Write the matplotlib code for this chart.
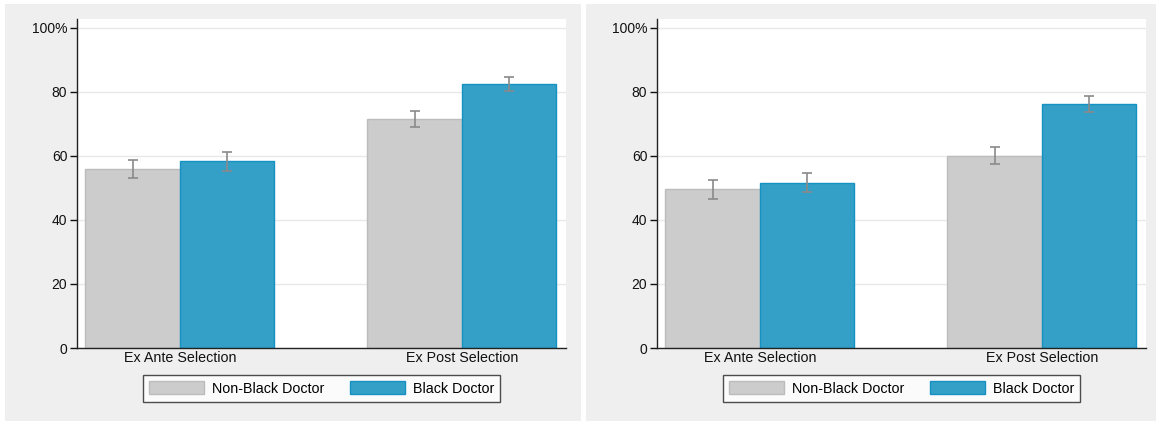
import numpy as np
import matplotlib.pyplot as plt
from matplotlib.patches import Rectangle, Patch

plt.rcParams['font.family'] = ['Liberation Sans', 'DejaVu Sans']

# Share of selections, by doctor race, two samples
groups = ['Ex Ante Selection', 'Ex Post Selection']
series = ['Non-Black Doctor', 'Black Doctor']

left_nonblack = [55.8, 71.5]
left_black = [58.3, 82.4]
left_nonblack_err = [2.8, 2.6]
left_black_err = [2.9, 2.2]

right_nonblack = [49.6, 60.1]
right_black = [51.7, 76.2]
right_nonblack_err = [2.9, 2.75]
right_black_err = [2.9, 2.5]

yticks = [0, 20, 40, 60, 80, 100]
ytick_labels = ['0', '20', '40', '60', '80', '100%']

gray_fill = '#cccccc'
gray_edge = '#bcbcbc'
blue_fill = '#34a0c8'
blue_edge = '#1591c2'
err_col = '#8a8a8a'
panel_bg = '#efefef'

W, H = 1156, 421
fig = plt.figure(figsize=(W / 100, H / 100), dpi=100, facecolor='white')

# gray panel backgrounds
for x0, x1 in [(5, 581), (586, 1156)]:
    fig.patches.append(Rectangle((x0 / W, 0), (x1 - x0) / W, (H - 4) / H,
                                 transform=fig.transFigure, facecolor=panel_bg,
                                 edgecolor='none', zorder=-10))


def draw_panel(ax, nonblack, black, nb_err, b_err):
    x = np.arange(len(groups))
    w = 0.335
    ax.set_facecolor('white')
    ax.bar(x - w / 2, nonblack, w, color=gray_fill, edgecolor=gray_edge, linewidth=1, zorder=2)
    ax.bar(x + w / 2, black, w, color=blue_fill, edgecolor=blue_edge, linewidth=1, zorder=2)
    ax.errorbar(x - w / 2, nonblack, yerr=nb_err, fmt='none', ecolor=err_col,
                elinewidth=1.2, capsize=3.5, capthick=1.2, zorder=3)
    ax.errorbar(x + w / 2, black, yerr=b_err, fmt='none', ecolor=err_col,
                elinewidth=1.2, capsize=3.5, capthick=1.2, zorder=3)

    ax.set_xlim(-0.365, 1.369)
    ax.set_ylim(0, 102.8)
    ax.set_yticks(yticks)
    ax.set_yticklabels(ytick_labels)
    ax.set_xticks(x)
    ax.set_xticklabels(groups)
    ax.tick_params(axis='x', length=0, pad=2, labelsize=10.3, colors='#111111')
    ax.tick_params(axis='y', length=5, width=1, pad=2, labelsize=10, colors='#111111')
    ax.yaxis.grid(True, color='#e8e8e8', linewidth=1, zorder=0)
    ax.set_axisbelow(True)
    for s in ['top', 'right']:
        ax.spines[s].set_visible(False)
    for s in ['left', 'bottom']:
        ax.spines[s].set_color('#222222')
        ax.spines[s].set_linewidth(1)

    handles = [Patch(facecolor=gray_fill, edgecolor=gray_edge),
               Patch(facecolor=blue_fill, edgecolor=blue_edge)]
    leg = ax.legend(handles, series, loc='upper center', bbox_to_anchor=(0.5, -0.082),
                    borderaxespad=0, ncol=2, frameon=True, fancybox=False, fontsize=10.3,
                    handlelength=3.85, handleheight=1.05, columnspacing=1.75,
                    handletextpad=0.56, borderpad=0.42)
    leg.get_frame().set_edgecolor('#222222')
    leg.get_frame().set_linewidth(1)


top = 19
bottom = 348
ax1 = fig.add_axes([77 / W, 1 - bottom / H, (566 - 77) / W, (bottom - top) / H])
ax2 = fig.add_axes([657 / W, 1 - bottom / H, (1146 - 657) / W, (bottom - top) / H])

draw_panel(ax1, left_nonblack, left_black, left_nonblack_err, left_black_err)
draw_panel(ax2, right_nonblack, right_black, right_nonblack_err, right_black_err)

fig.savefig('out.png', dpi=100, facecolor=fig.get_facecolor())
